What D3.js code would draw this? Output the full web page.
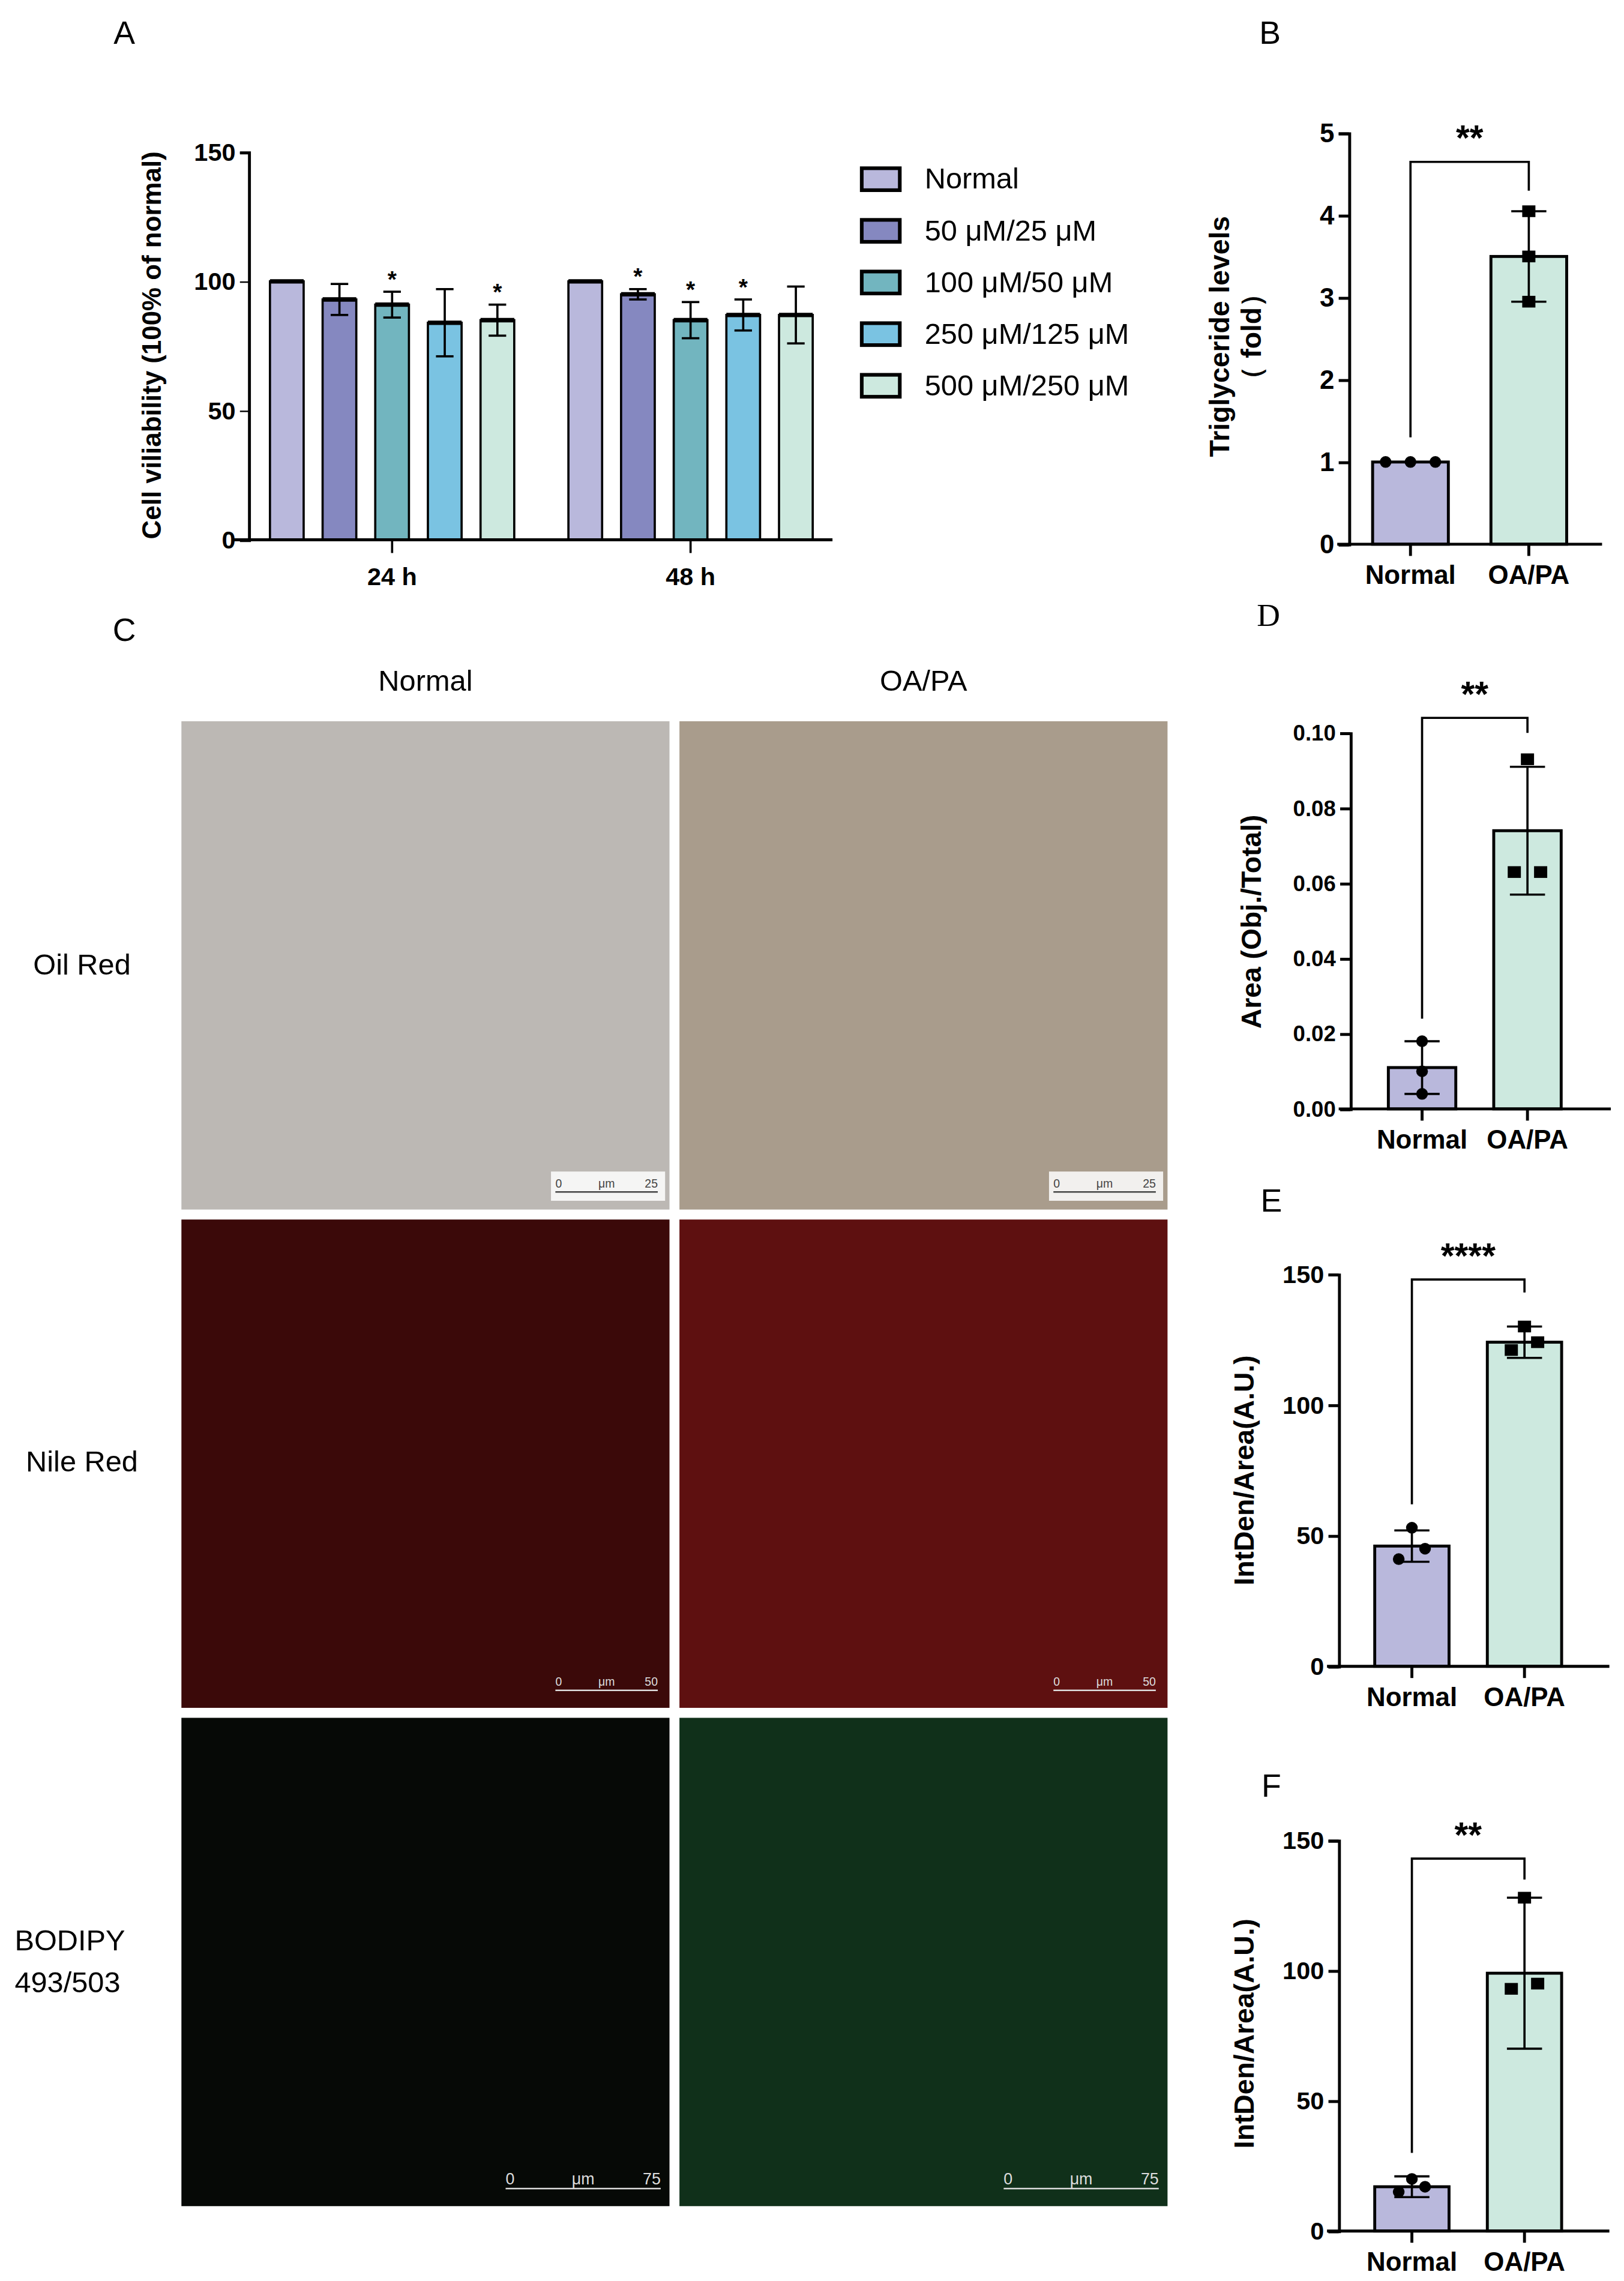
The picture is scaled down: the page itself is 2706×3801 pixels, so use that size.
<!DOCTYPE html>
<html><head><meta charset="utf-8">
<script src="https://cdn.jsdelivr.net/npm/d3@7"></script>
<style>body{margin:0;background:#fff}</style>
</head><body>
<script>
const W = 2706, H = 3801, k = W / 1110;

// panel A data
const aGroups = ['24 h', '48 h'];
const aSeries = ['Normal', '50 μM/25 μM', '100 μM/50 μM', '250 μM/125 μM', '500 μM/250 μM'];
const aColors = ['#b9b8dc', '#8588c0', '#72b5bf', '#7ac3e2', '#cde9df'];
const aMeans = [[100, 93, 91, 84, 85], [100, 95, 85, 87, 87]];
const aSd = [[0, 6, 5, 13, 6], [0, 2, 7, 6, 11]];
const aStars = [[0, 0, 1, 0, 1], [0, 1, 1, 1, 0]];
const aTicks = [0, 50, 100, 150];

// two-group panels
const twoCats = ['Normal', 'OA/PA'];
const twoColors = ['#b9b8dc', '#cde9df'];
const bMeans = [1, 3.5], bSd = [0, 0.55], bPts = [[1, 1, 1], [4.05, 3.5, 2.95]];
const dMeans = [0.011, 0.074], dSd = [0.007, 0.017], dPts = [[0.018, 0.010, 0.004], [0.093, 0.063, 0.063]];
const eMeans = [46, 124], eSd = [6, 6], ePts = [[53, 41, 45], [130, 121, 124]];
const fMeans = [17, 99], fSd = [4, 29], fPts = [[20, 15, 17], [128, 93, 95]];

const svg = d3.select('body').append('svg').attr('width', W).attr('height', H);
svg.append('rect').attr('width', W).attr('height', H).attr('fill', '#fff');
const root = svg.append('g').attr('transform', `scale(${k})`).style('font-family', 'Liberation Sans, Arial, sans-serif');

function txt(g, x, y, s, size, opt = {}) {
  return g.append('text').attr('x', x).attr('y', y).text(s)
    .attr('font-size', size).attr('font-weight', opt.bold ? 'bold' : 'normal')
    .attr('text-anchor', opt.anchor || 'middle').attr('font-family', opt.family || null)
    .attr('transform', opt.rot ? `rotate(-90,${x},${y})` : null);
}

// ---------- Panel A ----------
txt(root, 85, 30, 'A', 22);
const ay = d3.scaleLinear().domain([0, 150]).range([369, 104]);
const ax = d3.scaleBand().domain(aGroups).range([166, 574]).paddingInner(0.118).paddingOuter(0.059);
const as = d3.scaleBand().domain(aSeries).range([0, ax.bandwidth()]).paddingInner(0.36).paddingOuter(0.18);
const gA = root.append('g');
aGroups.forEach((grp, gi) => {
  aSeries.forEach((s, si) => {
    const x0 = ax(grp) + as(s), bw = as.bandwidth(), cx = x0 + bw / 2;
    const v = aMeans[gi][si], sd = aSd[gi][si];
    gA.append('rect').attr('x', x0).attr('y', ay(v)).attr('width', bw).attr('height', ay(0) - ay(v))
      .attr('fill', aColors[si]).attr('stroke', '#000').attr('stroke-width', 1.5);
    gA.append('line').attr('x1', x0).attr('x2', x0 + bw).attr('y1', ay(v)).attr('y2', ay(v)).attr('stroke', '#000').attr('stroke-width', 3);
    if (sd > 0) {
      gA.append('line').attr('x1', cx).attr('x2', cx).attr('y1', ay(v + sd)).attr('y2', ay(v - sd)).attr('stroke', '#000').attr('stroke-width', 1.5);
      [v + sd, v - sd].forEach(e => gA.append('line').attr('x1', cx - 6).attr('x2', cx + 6).attr('y1', ay(e)).attr('y2', ay(e)).attr('stroke', '#000').attr('stroke-width', 1.5));
    }
    if (aStars[gi][si]) txt(gA, cx, ay(v + sd) - 3, '*', 16, { bold: true });
  });
});
const yAxA = gA.append('g').attr('transform', 'translate(170,0)').call(d3.axisLeft(ay).tickValues(aTicks).tickSize(6));
yAxA.selectAll('text').attr('font-size', 17).attr('font-weight', 'bold').attr('font-family', 'Liberation Sans Narrow, Liberation Sans');
gA.append('line').attr('x1', 160).attr('x2', 569).attr('y1', ay(0)).attr('y2', ay(0)).attr('stroke', '#000').attr('stroke-width', 2);
aGroups.forEach(grp => {
  const cx = ax(grp) + ax.bandwidth() / 2;
  gA.append('line').attr('x1', cx).attr('x2', cx).attr('y1', ay(0)).attr('y2', ay(0) + 9).attr('stroke', '#000').attr('stroke-width', 1.5);
  txt(gA, cx, 400, grp, 17, { bold: true, family: 'Liberation Sans Narrow, Liberation Sans' });
});
txt(gA, 110, 236, 'Cell viliability (100% of normal)', 18, { bold: true, rot: true });
aSeries.forEach((s, i) => {
  const y = 122 + i * 35.3;
  gA.append('rect').attr('x', 589).attr('y', y - 7).attr('width', 26).attr('height', 15).attr('fill', aColors[i]).attr('stroke', '#000').attr('stroke-width', 2.5);
  txt(gA, 632, y + 7, s, 20, { anchor: 'start' });
});
gA.selectAll('.domain').attr('stroke-width', 2);

// ---------- two-bar panels ----------
function twoPanel(o) {
  const g = root.append('g');
  const y = d3.scaleLinear().domain(o.dom).range([o.y0, o.y1]);
  const x = d3.scaleBand().domain(twoCats).range([o.ax, o.ax + o.w]).paddingInner(o.pi).paddingOuter(o.po);
  twoCats.forEach((c, i) => {
    const x0 = x(c), bw = x.bandwidth(), cx = x0 + bw / 2, v = o.means[i], sd = o.sd[i];
    g.append('rect').attr('x', x0).attr('y', y(v)).attr('width', bw).attr('height', y(0) - y(v))
      .attr('fill', twoColors[i]).attr('stroke', '#000').attr('stroke-width', 2);
    if (sd > 0) {
      g.append('line').attr('x1', cx).attr('x2', cx).attr('y1', y(v + sd)).attr('y2', y(v - sd)).attr('stroke', '#000').attr('stroke-width', 1.5);
      [v + sd, v - sd].forEach(e => g.append('line').attr('x1', cx - 12).attr('x2', cx + 12).attr('y1', y(e)).attr('y2', y(e)).attr('stroke', '#000').attr('stroke-width', 1.5));
    }
    const off = o.spread[i];
    o.pts[i].forEach((p, j) => {
      if (i === 0) g.append('circle').attr('cx', cx + off[j]).attr('cy', y(p)).attr('r', 4).attr('fill', '#000');
      else g.append('rect').attr('x', cx + off[j] - 4.5).attr('y', y(p) - 4).attr('width', 9).attr('height', 8).attr('fill', '#000');
    });
  });
  const axis = g.append('g').attr('transform', `translate(${o.ax},0)`).call(d3.axisLeft(y).tickValues(o.ticks).tickFormat(o.fmt || d3.format('d')).tickSize(7));
  axis.selectAll('text').attr('font-size', o.fs || 17).attr('font-weight', 'bold');
  axis.selectAll('.domain').attr('stroke-width', 2);
  axis.selectAll('.tick line').attr('stroke-width', 2);
  g.append('line').attr('x1', o.ax - 8).attr('x2', o.ax + o.w + 8).attr('y1', y(0)).attr('y2', y(0)).attr('stroke', '#000').attr('stroke-width', 2);
  twoCats.forEach(c => {
    const cx = x(c) + x.bandwidth() / 2;
    g.append('line').attr('x1', cx).attr('x2', cx).attr('y1', y(0)).attr('y2', y(0) + 8).attr('stroke', '#000').attr('stroke-width', 2);
    txt(g, cx, y(0) + 27, c, 18, { bold: true });
  });
  const c0 = x(twoCats[0]) + x.bandwidth() / 2, c1 = x(twoCats[1]) + x.bandwidth() / 2;
  const yb = y(o.br);
  g.append('path').attr('d', `M${c0},${y(o.brL)}V${yb}H${c1}V${y(o.brR)}`).attr('fill', 'none').attr('stroke', '#000').attr('stroke-width', 1.5);
  txt(g, (c0 + c1) / 2, yb - 8, o.stars, 24, { bold: true });
  o.label.forEach((l, i) => txt(g, o.lx + i * 22, o.ly, l, 19, { bold: true, rot: true, family: o.lf }));
  txt(g, o.tx, o.ty, o.title, 22, { family: o.tf });
}

twoPanel({ dom: [0, 5], y0: 372, y1: 91, ax: 922, w: 165, pi: 0.36, po: 0.2, ticks: [0, 1, 2, 3, 4, 5], means: bMeans, sd: bSd, pts: bPts,
  spread: [[-17, 0, 17], [0, 0, 0]], br: 4.65, brL: 1.3, brR: 4.3, stars: '**', label: ['Triglyceride levels', '（ fold）'], lx: 840, ly: 230, tx: 868, ty: 30, title: 'B', fs: 18 });
twoPanel({ dom: [0, 0.10], y0: 758, y1: 501, ax: 923, w: 170, pi: 0.36, po: 0.36, ticks: [0, 0.02, 0.04, 0.06, 0.08, 0.10], fmt: d3.format('.2f'), means: dMeans, sd: dSd, pts: dPts,
  spread: [[0, 0, 0], [0, -9, 9]], br: 0.104, brL: 0.024, brR: 0.1, stars: '**', label: ['Area (Obj./Total)'], lx: 862, ly: 630, tx: 867, ty: 428, title: 'D',
  tf: 'Liberation Serif, serif', fs: 15, lf: 'Liberation Sans Narrow, Liberation Sans' });
twoPanel({ dom: [0, 150], y0: 1139, y1: 871, ax: 915, w: 177, pi: 0.34, po: 0.32, ticks: [0, 50, 100, 150], means: eMeans, sd: eSd, pts: ePts,
  spread: [[0, -9, 9], [0, -9, 9]], br: 148, brL: 62, brR: 143, stars: '****', label: ['IntDen/Area(A.U.)'], lx: 857, ly: 1005, tx: 869, ty: 828, title: 'E',
  lf: 'Liberation Sans Narrow, Liberation Sans' });
twoPanel({ dom: [0, 150], y0: 1525, y1: 1258, ax: 915, w: 177, pi: 0.34, po: 0.32, ticks: [0, 50, 100, 150], means: fMeans, sd: fSd, pts: fPts,
  spread: [[0, -9, 9], [0, -9, 9]], br: 143, brL: 30, brR: 135, stars: '**', label: ['IntDen/Area(A.U.)'], lx: 857, ly: 1390, tx: 869, ty: 1228, title: 'F',
  lf: 'Liberation Sans Narrow, Liberation Sans' });

// ---------- Panel C (micrograph placeholders) ----------
const cCols = ['Normal', 'OA/PA'];
const cRows = ['Oil Red', 'Nile Red', 'BODIPY'];
const cFills = [['#bcb8b4', '#a99c8c'], ['#3b0909', '#5e1010'], ['#060906', '#10301a']];
const cScale = ['25', '50', '75'];
const gC = root.append('g');
txt(gC, 85, 438, 'C', 22);
const cx = d3.scaleBand().domain(cCols).range([124, 798]).paddingInner(0.02);
const cy = d3.scaleBand().domain(cRows).range([493, 1508]).paddingInner(0.02);
cCols.forEach(c => txt(gC, cx(c) + cx.bandwidth() / 2, 472, c, 20));
cRows.forEach((r, ri) => {
  cCols.forEach((c, ci) => {
    const x0 = cx(c), y0 = cy(r), bw = cx.bandwidth(), bh = cy.bandwidth();
    gC.append('rect').attr('x', x0).attr('y', y0).attr('width', bw).attr('height', bh).attr('fill', cFills[ri][ci]);
    const light = ri === 0;
    const sb = gC.append('g').attr('transform', `translate(${x0 + bw - (ri === 2 ? 112 : 78)},${y0 + bh - 12})`);
    if (light) sb.append('rect').attr('x', -3).attr('y', -14).attr('width', 78).attr('height', 20).attr('fill', '#fff').attr('opacity', 0.85);
    const col = light ? '#444' : '#ddd', L = ri === 2 ? 106 : 70;
    sb.append('line').attr('x1', 0).attr('x2', L).attr('y1', 0).attr('y2', 0).attr('stroke', col);
    txt(sb, 0, -3, '0', ri === 2 ? 11 : 8, { anchor: 'start' }).attr('fill', col);
    txt(sb, L / 2, -3, 'μm', ri === 2 ? 11 : 8).attr('fill', col);
    txt(sb, L, -3, cScale[ri], ri === 2 ? 11 : 8, { anchor: 'end' }).attr('fill', col);
  });
});
txt(gC, 56, 666, 'Oil Red', 20);
txt(gC, 56, 1006, 'Nile Red', 20);
txt(gC, 10, 1333, 'BODIPY', 20, { anchor: 'start' });
txt(gC, 10, 1362, '493/503', 20, { anchor: 'start' });
</script>
</body></html>
